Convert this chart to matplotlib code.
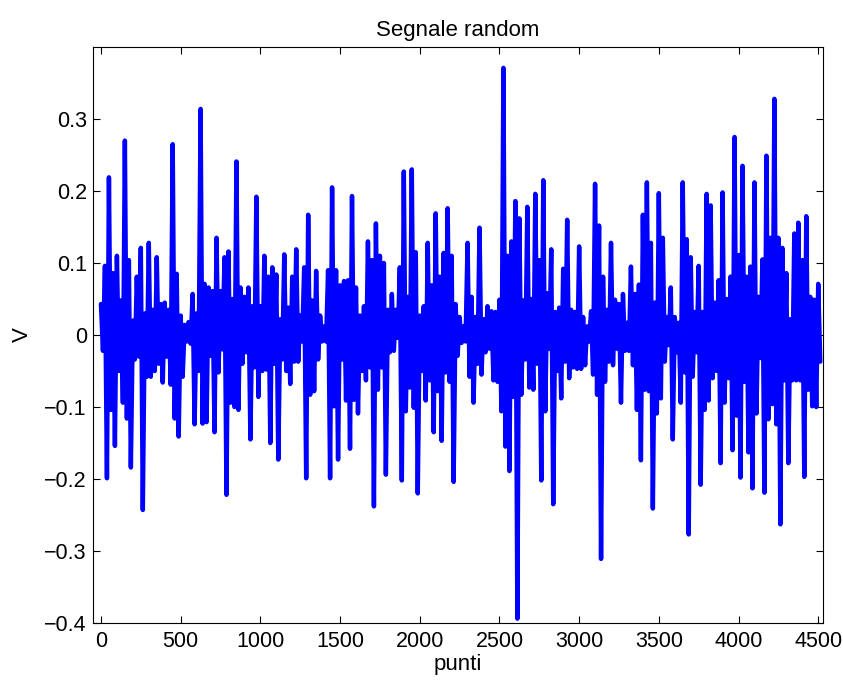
import numpy as np
import matplotlib
matplotlib.use("Agg")
import matplotlib.pyplot as plt
from matplotlib.ticker import FuncFormatter, FixedLocator

plt.rcParams['font.family'] = ['Liberation Sans', 'DejaVu Sans']

# Signal: per column of 25 samples, the upper and lower excursion
STEP = 25
HI = [0.043, 0.096, 0.219, 0.086, 0.110, 0.048, 0.270, 0.104, 0.020, 0.081,
      0.121, 0.030, 0.128, 0.035, 0.108, 0.043, 0.045, 0.035, 0.265, 0.085,
      0.027, 0.014, 0.018, 0.057, 0.030, 0.314, 0.071, 0.066, 0.061, 0.135,
      0.061, 0.108, 0.116, 0.050, 0.241,
      0.066, 0.053, 0.066, 0.040, 0.192, 0.040, 0.110, 0.081, 0.094, 0.084,
      0.022, 0.112, 0.038, 0.081, 0.119, 0.027, 0.094, 0.167, 0.048, 0.089,
      0.027, 0.012, 0.090, 0.205, 0.090, 0.069, 0.075, 0.076, 0.193, 0.066,
      0.027, 0.040, 0.130, 0.104, 0.155, 0.110, 0.100,
      0.035, 0.057, 0.035, 0.094, 0.227, 0.053, 0.230, 0.115, 0.027, 0.040,
      0.128, 0.069, 0.169, 0.081, 0.114, 0.176, 0.110, 0.043, 0.025, 0.012,
      0.128, 0.053, 0.025, 0.149, 0.022, 0.040, 0.033, 0.032, 0.049, 0.371,
      0.110, 0.130, 0.186, 0.162, 0.048, 0.178,
      0.050, 0.196, 0.104, 0.215, 0.058, 0.119, 0.032, 0.038, 0.092, 0.160,
      0.035, 0.032, 0.123, 0.025, 0.012, 0.033, 0.210, 0.152, 0.081, 0.035,
      0.128, 0.049, 0.043, 0.057, 0.017, 0.095, 0.057, 0.070, 0.167, 0.212,
      0.128, 0.045, 0.197, 0.135, 0.025, 0.066,
      0.025, 0.017, 0.212, 0.133, 0.108, 0.032, 0.096, 0.032, 0.196, 0.180,
      0.045, 0.076, 0.198, 0.050, 0.081, 0.275, 0.111, 0.235, 0.081, 0.095,
      0.212, 0.053, 0.105, 0.249, 0.135, 0.328, 0.135, 0.121, 0.086, 0.022,
      0.141, 0.156, 0.104, 0.165, 0.053, 0.049, 0.071]
LO = [-0.022, -0.199, -0.104, -0.154, -0.050, -0.094, -0.116, -0.184, -0.034, -0.030,
      -0.243, -0.058, -0.058, -0.050, -0.040, -0.066, -0.030, -0.069, -0.116, -0.141,
      -0.058, -0.009, -0.012, -0.124, -0.050, -0.123, -0.121, -0.029, -0.135, -0.052,
      -0.020, -0.222, -0.094, -0.100, -0.104,
      -0.040, -0.024, -0.145, -0.045, -0.086, -0.050, -0.048, -0.150, -0.040, -0.173,
      -0.034, -0.050, -0.068, -0.037, -0.037, -0.009, -0.199, -0.083, -0.078, -0.034,
      -0.009, -0.009, -0.199, -0.099, -0.173, -0.034, -0.091, -0.158, -0.090, -0.109,
      -0.050, -0.063, -0.045, -0.238, -0.076, -0.045, -0.194,
      -0.024, -0.022, -0.004, -0.202, -0.106, -0.073, -0.101, -0.220, -0.050, -0.091,
      -0.063, -0.135, -0.078, -0.147, -0.052, -0.065, -0.204, -0.029, -0.011, -0.009,
      -0.058, -0.094, -0.040, -0.055, -0.024, -0.019, -0.063, -0.065, -0.106, -0.155,
      -0.189, -0.086, -0.394, -0.083, -0.034, -0.073,
      -0.076, -0.040, -0.202, -0.106, -0.019, -0.235, -0.050, -0.088, -0.037, -0.060,
      -0.045, -0.047, -0.047, -0.042, -0.009, -0.055, -0.083, -0.311, -0.065, -0.037,
      -0.042, -0.019, -0.094, -0.022, -0.022, -0.042, -0.104, -0.174, -0.076, -0.078,
      -0.241, -0.109, -0.088, -0.037, -0.014, -0.145,
      -0.024, -0.094, -0.052, -0.277, -0.058, -0.024, -0.208, -0.104, -0.091, -0.060,
      -0.050, -0.178, -0.094, -0.060, -0.160, -0.112, -0.198, -0.065, -0.163, -0.213,
      -0.109, -0.032, -0.219, -0.117, -0.096, -0.124, -0.263, -0.063, -0.178, -0.063,
      -0.063, -0.063, -0.197, -0.076, -0.099, -0.100, -0.037]

XTICKS = [0, 500, 1000, 1500, 2000, 2500, 3000, 3500, 4000, 4500]
YTICKS = [-0.4, -0.3, -0.2, -0.1, 0, 0.1, 0.2, 0.3]

# Interleave the read upper / lower excursions into the sample sequence
n = min(len(HI), len(LO))
punti = np.empty(2 * n)
vals = np.empty(2 * n)
punti[0::2] = np.arange(n) * STEP
punti[1::2] = np.arange(n) * STEP + STEP / 2
vals[0::2] = HI[:n]
vals[1::2] = LO[:n]

fig = plt.figure(figsize=(8.43, 6.81), dpi=100)
ax = fig.add_axes([93 / 843, 58 / 681, 730 / 843, 576 / 681])
ax.plot(punti, vals, color=(0, 0, 1), lw=3.2,
        solid_joinstyle='round', solid_capstyle='round')

ax.set_xlim(-50, 4530)
ax.set_ylim(-0.4, 0.4)
ax.xaxis.set_major_locator(FixedLocator(XTICKS))
ax.yaxis.set_major_locator(FixedLocator(YTICKS))
fmt = FuncFormatter(lambda v, p: f"{v:g}".replace('-', '\u2212'))
ax.yaxis.set_major_formatter(fmt)
ax.xaxis.set_major_formatter(fmt)
ax.tick_params(direction='in', length=5, width=0.8, labelsize=15.5,
               top=True, right=True, colors='black')
ax.tick_params(axis='x', pad=6)
ax.tick_params(axis='y', pad=4.5)
for s in ax.spines.values():
    s.set_linewidth(0.8)

ax.set_title('Segnale random', fontsize=16, pad=8)
ax.set_xlabel('punti', fontsize=16, labelpad=1)
ax.set_ylabel('V', fontsize=16, labelpad=8)

fig.savefig('out.png', dpi=100)
